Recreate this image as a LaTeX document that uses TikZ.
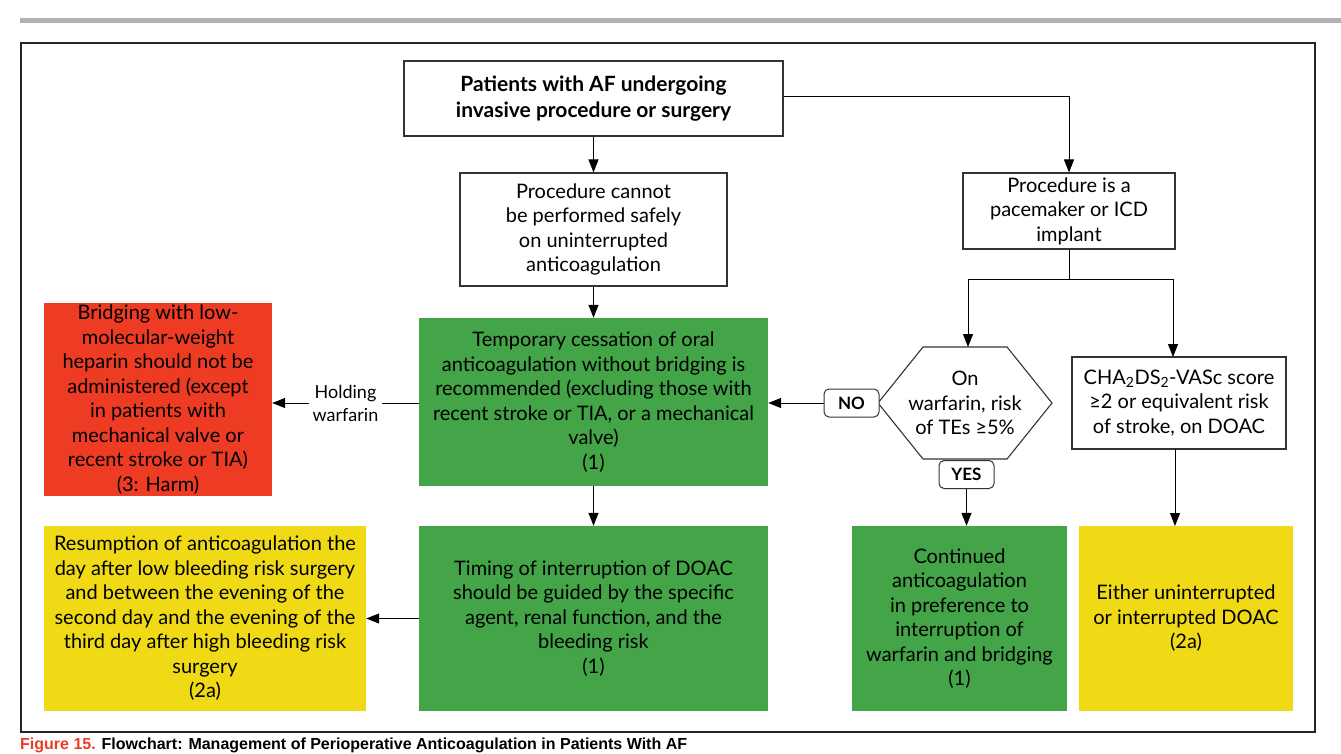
\documentclass[tikz,border=0pt]{standalone}
\usepackage{fontspec}
\setmainfont{Lato}
\newfontfamily\capfont{Liberation Sans}
\usetikzlibrary{arrows.meta,positioning}
\definecolor{recgreen}{RGB}{67,164,72}
\definecolor{recred}{RGB}{238,59,36}
\definecolor{recyellow}{RGB}{240,218,22}
\definecolor{bargray}{RGB}{178,178,178}
\tikzset{
  box/.style={draw=black!80, line width=1.1pt, align=center, inner sep=2pt,
    font=\fontsize{20}{24.5}\selectfont},
  recbox/.style={fill=#1, align=center, inner sep=2pt,
    font=\fontsize{20}{24.5}\selectfont},
  tag/.style={draw=black!80, line width=1pt, rounded corners=5pt, fill=white,
    font=\bfseries\fontsize{17}{20}\selectfont, minimum width=55pt, minimum height=28pt},
  arr/.style={line width=1pt, -{Triangle[length=13pt,width=10pt]}}
}
\begin{document}
\begin{tikzpicture}[x=1pt,y=-1pt]
            \useasboundingbox (0,0) rectangle (1341,754);
            \fill[bargray] (20,18.5) rectangle (1341,23.5);
            \draw[line width=2.6pt, black!85] (21,43) rectangle (1315,732);
            % first row
            \node[box, minimum width=379pt, minimum height=75pt, font=\bfseries\fontsize{21}{26}\selectfont] (start) at (593.5,98.5) {Patients with AF undergoing\\invasive procedure or surgery};
            \node[box, minimum width=267pt, minimum height=113pt] (unsafe) at (593.5,229.5) {Procedure cannot\\be performed safely\\on uninterrupted\\anticoagulation};
            \node[box, minimum width=212pt, minimum height=76pt] (device) at (1069,211) {Procedure is a\\pacemaker or ICD\\implant};
            % middle row
            \node[recbox=recgreen, minimum width=349pt, minimum height=168pt] (cessation) at (593.5,402) {Temporary cessation of oral\\anticoagulation without bridging is\\recommended (excluding those with\\recent stroke or TIA, or a mechanical\\valve)\\(1)};
            \node[recbox=recred, minimum width=228pt, minimum height=193pt] (bridging) at (158,399.5) {Bridging with low-\\molecular-weight\\heparin should not be\\administered (except\\in patients with\\mechanical valve or\\recent stroke or TIA)\\(3: Harm)};
            \node[align=center, font=\fontsize{20}{24.5}\selectfont] (warfrisk) at (965,403) {On\\warfarin, risk\\of TEs ≥5\%};
            \draw[black!80, line width=1.1pt] ([xshift=-87pt]warfrisk.center) -- ++(45,-56) -- ++(84,0) -- ++(45,56) -- ++(-45,56) -- ++(-84,0) -- cycle;
            \node[box, minimum width=214pt, minimum height=92pt] (chads) at (1179,403) {CHA\textsubscript{2}DS\textsubscript{2}-VASc score\\≥2 or equivalent risk\\of stroke, on DOAC};
            % last row
            \node[recbox=recyellow, minimum width=322pt, minimum height=185pt] (resume) at (205,618.5) {Resumption of anticoagulation the\\day after low bleeding risk surgery\\and between the evening of the\\second day and the evening of the\\third day after high bleeding risk\\surgery\\(2a)};
            \node[recbox=recgreen, minimum width=349pt, minimum height=185pt] (timing) at (593.5,618.5) {Timing of interruption of DOAC\\should be guided by the specific\\agent, renal function, and the\\bleeding risk\\(1)};
            \node[recbox=recgreen, minimum width=215pt, minimum height=185pt] (continued) at (959.5,618.5) {Continued\\anticoagulation\\in preference to\\interruption of\\warfarin and bridging\\(1)};
            \node[recbox=recyellow, minimum width=214pt, minimum height=185pt] (either) at (1186,618.5) {Either uninterrupted\\or interrupted DOAC\\(2a)};
            % connectors
            \coordinate (split) at (1069,279);
            \draw[arr] (start) -- (unsafe);
            \draw[arr] (start.east |- 0,97) -| (device.north);
            \draw[arr] (unsafe) -- (cessation);
            \draw[arr] (cessation) -- (timing);
            \draw[line width=1pt] (device.south) -- (split);
            \draw[arr] (split) -| (968,347);
            \draw[arr] (split) -| (1173,357);
            \draw[arr] (cessation.west |- 0,403) -- node[fill=white, align=center, font=\fontsize{18}{23}\selectfont] {Holding\\warfarin} (bridging.east |- 0,403);
            \draw[arr] (timing.west) -- (resume.east);
            \node[tag] (no) at (851.5,403) {NO};
            \draw[arr] (no.west) -- (cessation.east |- no.west);
            \node[tag] (yes) at (966.5,474.5) {YES};
            \draw[arr] (yes.south) -- (yes.south |- continued.north);
            \draw[arr] (1175,449) -- (1175,526);
            \node[anchor=north west, inner sep=0pt, font=\capfont\bfseries\fontsize{16}{18}\selectfont] (caption) at (20,738) {\textcolor{recred}{Figure 15.} Flowchart: Management of Perioperative Anticoagulation in Patients With AF};
\end{tikzpicture}
\end{document}
